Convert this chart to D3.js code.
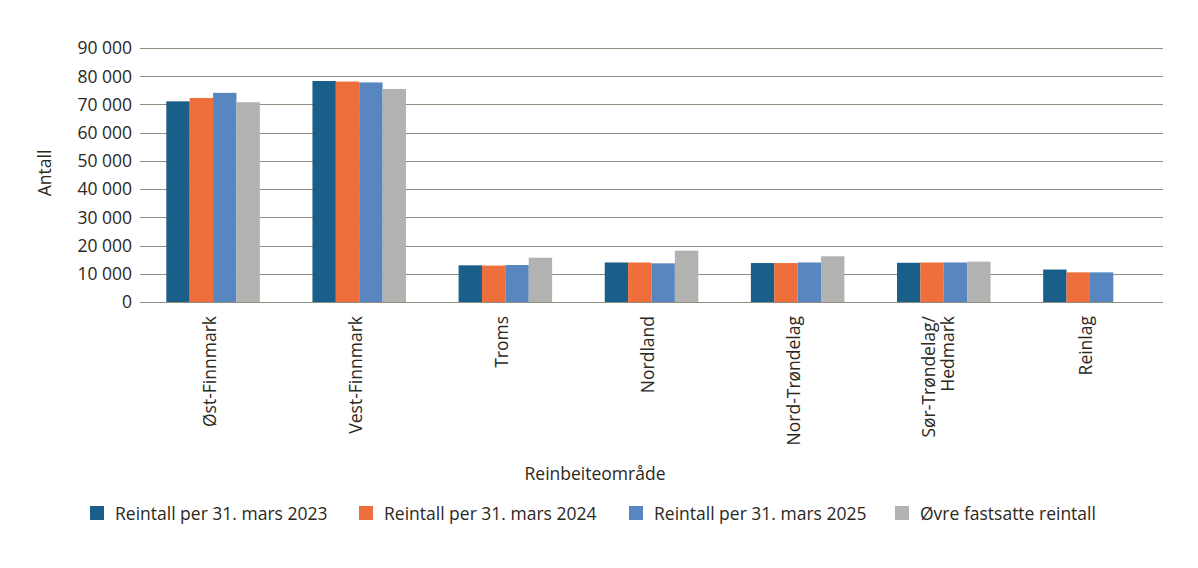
<!DOCTYPE html>
<html>
<head>
    <meta charset="UTF-8">
    <title>Reintall per reinbeiteområde</title>
    <script src="https://d3js.org/d3.v7.min.js"></script>
    <style>
        body {
            margin: 0;
            background: #fff;
        }

        text {
            font-family: "Open Sans", sans-serif;
            fill: #2b281d;
        }

        .tick-label {
            font-size: 17.5px;
            text-anchor: end;
        }

        .cat-label {
            font-size: 17.5px;
            text-anchor: end;
        }

        .axis-title {
            font-size: 17.5px;
            text-anchor: middle;
        }

        .legend-text {
            font-size: 17.5px;
        }

        .grid {
            stroke: #8e8d7e;
            stroke-width: 1.1px;
        }
    </style>
</head>
<body>
<script>

    const categories = ['Øst-Finnmark', 'Vest-Finnmark', 'Troms', 'Nordland', 'Nord-Trøndelag', 'Sør-Trøndelag/Hedmark', 'Reinlag'];
    const categoryLines = [['Øst-Finnmark'], ['Vest-Finnmark'], ['Troms'], ['Nordland'], ['Nord-Trøndelag'], ['Sør-Trøndelag/', 'Hedmark'], ['Reinlag']];

    const seriesNames = ['Reintall per 31. mars 2023', 'Reintall per 31. mars 2024', 'Reintall per 31. mars 2025', 'Øvre fastsatte reintall'];
    const seriesColors = ['#1a5f8a', '#ee6f3b', '#5786c0', '#b2b2b1'];

    const values2023 = [71100, 78300, 13000, 14000, 13800, 13900, 11500];
    const values2024 = [72300, 78100, 12900, 14000, 13800, 14000, 10500];
    const values2025 = [74100, 77800, 13100, 13700, 14000, 14000, 10500];
    const valuesUpper = [70800, 75500, 15700, 18200, 16200, 14300, null];

    const yTicks = [0, 10000, 20000, 30000, 40000, 50000, 60000, 70000, 80000, 90000];

    const width = 1198;
    const height = 568;
    const plotLeft = 140;
    const plotRight = 1163;
    const plotTop = 48;
    const plotBottom = 302;

    const seriesValues = [values2023, values2024, values2025, valuesUpper];

    const svg = d3.select('body')
        .append('svg')
        .attr('width', width)
        .attr('height', height);

    const x = d3.scaleBand()
        .domain(categories)
        .range([plotLeft, plotRight])
        .paddingInner(0.36)
        .paddingOuter(0.18);

    const xInner = d3.scaleBand()
        .domain(seriesNames)
        .range([0, x.bandwidth()]);

    const y = d3.scaleLinear()
        .domain([0, 90000])
        .range([plotBottom, plotTop]);

    // 90 000 style, space as thousands separator
    const fmt = v => d3.format(',')(v).replace(/,/g, ' ');

    // gridlines + y labels
    svg.append('g')
        .selectAll('line')
        .data(yTicks)
        .join('line')
        .attr('class', 'grid')
        .attr('x1', plotLeft)
        .attr('x2', plotRight)
        .attr('y1', d => Math.round(y(d)) + 0.5)
        .attr('y2', d => Math.round(y(d)) + 0.5);

    svg.append('g')
        .selectAll('text')
        .data(yTicks)
        .join('text')
        .attr('class', 'tick-label')
        .attr('x', 132)
        .attr('y', d => y(d))
        .attr('dy', '0.36em')
        .text(d => fmt(d));

    // bars
    const rows = [];
    categories.forEach((c, i) => {
        seriesNames.forEach((s, j) => {
            if (seriesValues[j][i] != null) {
                rows.push({cat: c, series: s, value: seriesValues[j][i], color: seriesColors[j]});
            }
        });
    });

    svg.append('g')
        .selectAll('rect')
        .data(rows)
        .join('rect')
        .attr('x', d => x(d.cat) + xInner(d.series))
        .attr('y', d => y(d.value))
        .attr('width', xInner.bandwidth())
        .attr('height', d => plotBottom - y(d.value))
        .attr('fill', d => d.color);

    // category labels, rotated
    const catG = svg.append('g')
        .selectAll('text')
        .data(categories)
        .join('text')
        .attr('class', 'cat-label')
        .attr('transform', d => `translate(${x(d) + x.bandwidth() / 2}, 316) rotate(-90)`);

    catG.each(function(d, i) {
        const lines = categoryLines[i];
        const base = lines.length === 1 ? 0.14 : 0.03;
        const t = d3.select(this);
        lines.forEach((ln, k) => {
            t.append('tspan')
                .attr('x', 0)
                .attr('y', 0)
                .attr('dy', (base + (k - (lines.length - 1) / 2) * 1.05) + 'em')
                .text(ln);
        });
    });

    // axis titles
    svg.append('text')
        .attr('class', 'axis-title')
        .attr('transform', 'translate(51, 173) rotate(-90)')
        .text('Antall');

    svg.append('text')
        .attr('class', 'axis-title')
        .attr('x', 595)
        .attr('y', 480)
        .text('Reinbeiteområde');

    // legend
    const legendX = [90, 359, 629, 895];
    const legend = svg.append('g')
        .selectAll('g')
        .data(seriesNames)
        .join('g')
        .attr('transform', (d, i) => `translate(${legendX[i]}, 506)`);

    legend.append('rect')
        .attr('width', 14)
        .attr('height', 14)
        .attr('fill', (d, i) => seriesColors[i]);

    legend.append('text')
        .attr('class', 'legend-text')
        .attr('x', 25)
        .attr('y', 14)
        .text(d => d);

</script>
</body>
</html>
